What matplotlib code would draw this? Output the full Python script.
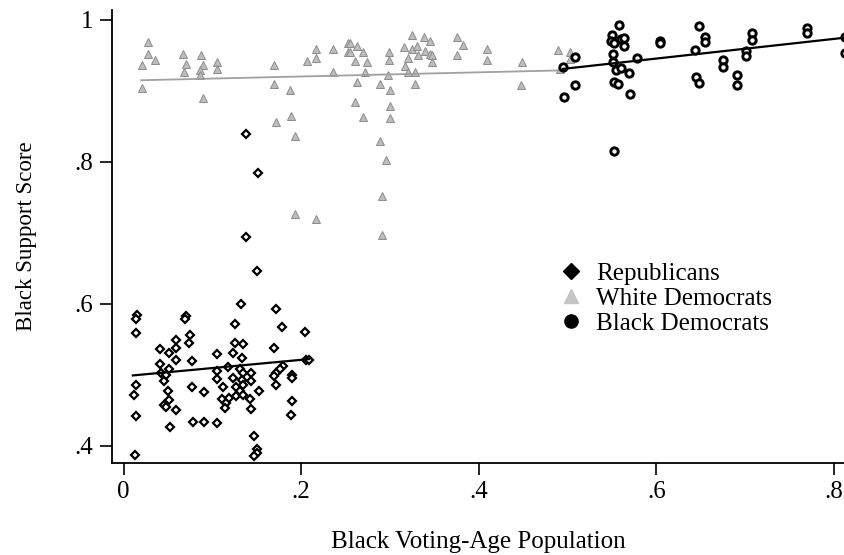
import matplotlib
matplotlib.use("Agg")
import matplotlib.pyplot as plt
from matplotlib.lines import Line2D

plt.rcParams['font.family'] = ['Liberation Serif', 'DejaVu Serif']

# Republicans (x = black VAP, y = black support score)
rep_pts = [
    (0.150, 0.646), (0.0155, 0.584), (0.0135, 0.579), (0.070, 0.583), (0.069, 0.578),
    (0.132, 0.600), (0.172, 0.593), (0.125, 0.571), (0.179, 0.567), (0.204, 0.560),
    (0.0135, 0.559), (0.0745, 0.556), (0.059, 0.549), (0.0737, 0.544), (0.125, 0.544),
    (0.135, 0.543), (0.041, 0.536), (0.051, 0.531), (0.059, 0.537), (0.170, 0.538),
    (0.123, 0.531), (0.105, 0.529), (0.059, 0.521), (0.0775, 0.520), (0.133, 0.523),
    (0.206, 0.521), (0.209, 0.521), (0.041, 0.515), (0.0425, 0.503), (0.051, 0.508),
    (0.048, 0.500), (0.046, 0.491), (0.105, 0.505), (0.105, 0.494), (0.118, 0.511),
    (0.131, 0.508), (0.135, 0.503), (0.144, 0.503), (0.123, 0.496), (0.133, 0.493),
    (0.144, 0.491), (0.135, 0.486), (0.180, 0.512), (0.176, 0.508), (0.172, 0.503),
    (0.169, 0.498), (0.172, 0.485), (0.190, 0.500), (0.190, 0.496), (0.0143, 0.485),
    (0.0116, 0.471), (0.0143, 0.442), (0.0124, 0.387), (0.050, 0.477), (0.051, 0.465),
    (0.046, 0.457), (0.048, 0.455), (0.059, 0.450), (0.052, 0.427), (0.0775, 0.482),
    (0.091, 0.475), (0.078, 0.433), (0.091, 0.433), (0.105, 0.432), (0.112, 0.483),
    (0.111, 0.466), (0.115, 0.460), (0.114, 0.453), (0.119, 0.467), (0.127, 0.470),
    (0.127, 0.482), (0.131, 0.477), (0.135, 0.472), (0.152, 0.477), (0.142, 0.466),
    (0.143, 0.451), (0.190, 0.463), (0.189, 0.443), (0.147, 0.414), (0.150, 0.396),
    (0.150, 0.390), (0.147, 0.385), (0.138, 0.839), (0.151, 0.784), (0.138, 0.694),
]

# White Democrats
wd_pts = [
    (0.0275, 0.969), (0.0275, 0.952), (0.036, 0.943), (0.021, 0.936), (0.021, 0.904),
    (0.067, 0.952), (0.070, 0.938), (0.068, 0.927), (0.0877, 0.950), (0.0895, 0.936),
    (0.0858, 0.929), (0.0866, 0.922), (0.105, 0.941), (0.105, 0.931), (0.0895, 0.890),
    (0.170, 0.936), (0.169, 0.910), (0.188, 0.901), (0.1716, 0.856), (0.1885, 0.864),
    (0.193, 0.836), (0.217, 0.959), (0.217, 0.946), (0.207, 0.942), (0.236, 0.959),
    (0.236, 0.927), (0.253, 0.968), (0.253, 0.955), (0.255, 0.968), (0.263, 0.963),
    (0.255, 0.955), (0.270, 0.955), (0.261, 0.942), (0.274, 0.940), (0.272, 0.927),
    (0.263, 0.912), (0.261, 0.885), (0.270, 0.863), (0.289, 0.910), (0.2995, 0.955),
    (0.2995, 0.943), (0.298, 0.922), (0.300, 0.901), (0.300, 0.879), (0.300, 0.862),
    (0.289, 0.830), (0.325, 0.979), (0.338, 0.976), (0.345, 0.971), (0.316, 0.962),
    (0.325, 0.959), (0.331, 0.963), (0.332, 0.950), (0.339, 0.956), (0.345, 0.952),
    (0.347, 0.950), (0.347, 0.940), (0.320, 0.946), (0.317, 0.935), (0.320, 0.927),
    (0.328, 0.927), (0.328, 0.910), (0.375, 0.976), (0.382, 0.964), (0.375, 0.950),
    (0.409, 0.959), (0.409, 0.943), (0.449, 0.941), (0.448, 0.908), (0.489, 0.957),
    (0.503, 0.955), (0.503, 0.945), (0.492, 0.931), (0.193, 0.726), (0.217, 0.719),
    (0.296, 0.802), (0.291, 0.752), (0.2915, 0.697),
]

# Black Democrats
bd_pts = [
    (0.558, 0.993), (0.550, 0.979), (0.549, 0.971), (0.552, 0.967), (0.560, 0.973),
    (0.564, 0.974), (0.564, 0.963), (0.551, 0.952), (0.551, 0.940), (0.555, 0.930),
    (0.560, 0.932), (0.569, 0.925), (0.552, 0.912), (0.557, 0.909), (0.570, 0.896),
    (0.552, 0.815), (0.578, 0.947), (0.495, 0.933), (0.508, 0.948), (0.508, 0.908),
    (0.496, 0.892), (0.604, 0.971), (0.604, 0.967), (0.648, 0.992), (0.655, 0.976),
    (0.655, 0.969), (0.644, 0.957), (0.645, 0.919), (0.648, 0.911), (0.675, 0.943),
    (0.675, 0.934), (0.691, 0.923), (0.691, 0.908), (0.701, 0.956), (0.701, 0.949),
    (0.708, 0.981), (0.708, 0.972), (0.770, 0.988), (0.770, 0.982), (0.8126, 0.976),
    (0.8126, 0.954),
]

# fitted lines (end points)
rep_fit_x = [0.0105, 0.209]
rep_fit_y = [0.499, 0.522]
wd_fit_x = [0.020, 0.497]
wd_fit_y = [0.915, 0.929]
bd_fit_x = [0.495, 0.8126]
bd_fit_y = [0.931, 0.975]

x_ticks = [0, 0.2, 0.4, 0.6, 0.8]
x_labels = ["0", ".2", ".4", ".6", ".8"]
y_ticks = [0.4, 0.6, 0.8, 1.0]
y_labels = [".4", ".6", ".8", "1"]

gray_fill = "#bdbdbd"
gray_edge = "#8c8c8c"

fig = plt.figure(figsize=(8.45, 5.55), dpi=100)
ax = fig.add_axes([0.1322, 0.1663, 0.8666, 0.8157])

wx, wy = zip(*wd_pts)
ax.plot(wx, wy, linestyle="none", marker="^", ms=5.5, mfc=gray_fill, mec=gray_edge, mew=0.7)
ax.plot(wd_fit_x, wd_fit_y, color="#a0a0a0", lw=1.3)

rx, ry = zip(*rep_pts)
ax.plot(rx, ry, linestyle="none", marker="D", ms=4.5, mfc="white", mec="black", mew=1.6)
ax.plot(rep_fit_x, rep_fit_y, color="black", lw=1.6)

bx, by = zip(*bd_pts)
ax.plot(bx, by, linestyle="none", marker="o", ms=5.3, mfc="white", mec="black", mew=2.1)
ax.plot(bd_fit_x, bd_fit_y, color="black", lw=1.6)

ax.set_xlim(-0.0133, 0.8113)
ax.set_ylim(0.376, 1.014)
ax.set_xticks(x_ticks)
ax.set_xticklabels(x_labels)
ax.set_yticks(y_ticks)
ax.set_yticklabels(y_labels)
ax.tick_params(direction="out", length=8.4, width=1.2, labelsize=18, pad=5)
for side in ["top", "right"]:
    ax.spines[side].set_visible(False)
for side in ["left", "bottom"]:
    ax.spines[side].set_linewidth(1.3)

ax.set_xlabel("Black Voting-Age Population", fontsize=18, labelpad=20)
ax.set_ylabel("Black Support Score", fontsize=16.5, labelpad=27)

handles = [
    Line2D([], [], linestyle="none", marker="D", ms=8.5, color="black"),
    Line2D([], [], linestyle="none", marker="^", ms=10, color="#c4c4c4"),
    Line2D([], [], linestyle="none", marker="o", ms=9.5, color="black"),
]
ax.legend(handles, ["Republicans", "White Democrats", "Black Democrats"],
          loc="upper left", bbox_to_anchor=(0.6, 0.465), frameon=False,
          fontsize=18, handlelength=0.8, handletextpad=0.6, labelspacing=0.1,
          borderaxespad=0)

fig.savefig("out.png", dpi=100)
